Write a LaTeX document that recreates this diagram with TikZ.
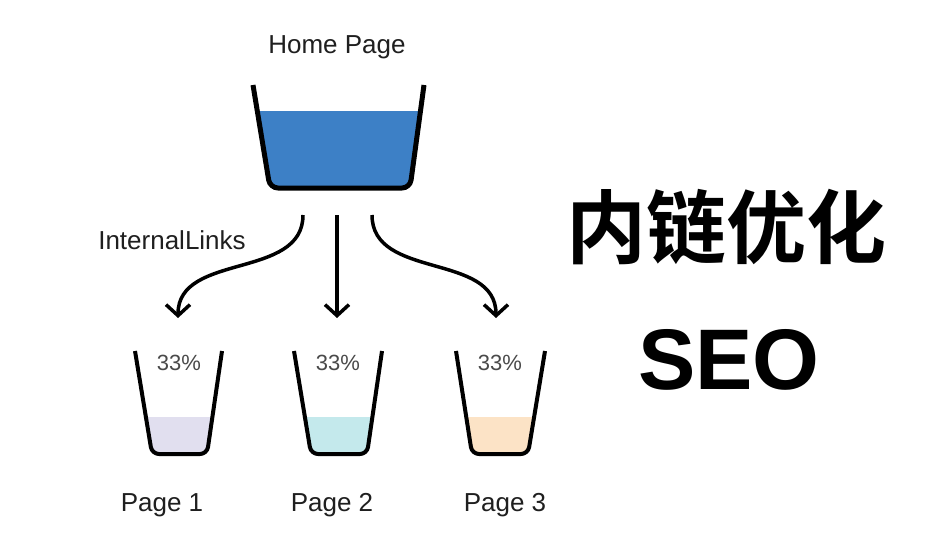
\documentclass[tikz,border=0pt]{standalone}
\usepackage{fontspec}
\setmainfont{Liberation Sans}
\newfontfamily\cjk{Noto Sans CJK SC}[BoldFont={Noto Sans CJK SC Bold}]
\usepackage{xcolor}
\usetikzlibrary{arrows.meta}

\definecolor{homeblue}{HTML}{3D80C6}
\definecolor{lavender}{HTML}{E1DFEF}
\definecolor{aqua}{HTML}{C4E9EC}
\definecolor{peach}{HTML}{FCE3C6}
\definecolor{pctgray}{HTML}{4A4A4A}

\begin{document}
\begin{tikzpicture}[x=1pt, y=-1pt, every node/.style={font=\fontsize{26}{31}\selectfont, text=black!88}]
    \useasboundingbox[fill=white] (0,0) rectangle (933,540);

    % Home Page bucket
    \begin{scope}
        \clip[rounded corners=8] (253,85) -- (270,188) -- (410,188) -- (424,85) -- cycle;
        \fill[homeblue] (240,111) rectangle (440,200);
    \end{scope}
    \draw[line width=5, rounded corners=8] (253,85) -- (270,188) -- (410,188) -- (424,85);
    \node (home) at (337,47) {Home Page};

    % Page buckets
    \begin{scope}
        \clip[rounded corners=7] (135,351) -- (152,454) -- (207,454) -- (222,351) -- cycle;
        \fill[lavender] (120,417) rectangle (240,470);
    \end{scope}
    \draw[line width=4, rounded corners=7] (135,351) -- (152,454) -- (207,454) -- (222,351);

    \begin{scope}
        \clip[rounded corners=7] (294,351) -- (311,454) -- (367,454) -- (382,351) -- cycle;
        \fill[aqua] (280,417) rectangle (400,470);
    \end{scope}
    \draw[line width=4, rounded corners=7] (294,351) -- (311,454) -- (367,454) -- (382,351);

    \begin{scope}
        \clip[rounded corners=7] (456,351) -- (472,454) -- (528,454) -- (545,351) -- cycle;
        \fill[peach] (440,417) rectangle (560,470);
    \end{scope}
    \draw[line width=4, rounded corners=7] (456,351) -- (472,454) -- (528,454) -- (545,351);

    \node[font=\fontsize{22}{26}\selectfont, text=pctgray] (pct1) at (179,363) {33\%};
    \node[font=\fontsize{22}{26}\selectfont, text=pctgray] (pct2) at (338,363) {33\%};
    \node[font=\fontsize{22}{26}\selectfont, text=pctgray] (pct3) at (500,363) {33\%};

    \node (page1) at (162,505) {Page 1};
    \node (page2) at (332,505) {Page 2};
    \node (page3) at (505,505) {Page 3};

    % Internal links
    \node (links) at (172,240) {InternalLinks};
    \coordinate (out1) at (303,215);
    \coordinate (out2) at (337,215);
    \coordinate (out3) at (372,215);
    \coordinate (in1) at (178,318);
    \coordinate (in2) at (337,318);
    \coordinate (in3) at (496,318);
    \draw[-{Straight Barb[length=11,width=24]}, line width=3.5] (out1) .. controls (303,280) and (178,252) .. (in1);
    \draw[-{Straight Barb[length=11,width=24]}, line width=3.5] (out2) -- (in2);
    \draw[-{Straight Barb[length=11,width=24]}, line width=3.5] (out3) .. controls (372,280) and (496,252) .. (in3);

    % Title
    \node[font=\cjk\bfseries\fontsize{80}{90}\selectfont, text=black] (title) at (726,227) {内链优化};
    \node[font=\bfseries\fontsize{86}{96}\selectfont, text=black] (seo) at (729,360) {SEO};
\end{tikzpicture}
\end{document}
